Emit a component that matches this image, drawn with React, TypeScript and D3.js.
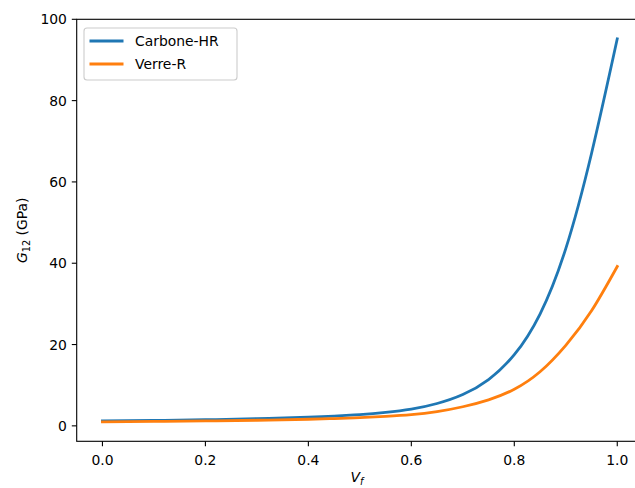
import React, { useEffect, useRef } from 'react';
import * as d3 from 'd3';

// fibre volume fraction
const vf = [0, 0.1, 0.2, 0.3, 0.4, 0.45, 0.5, 0.55, 0.6, 0.65, 0.7, 0.75, 0.8, 0.85, 0.9, 0.95, 1.0];
// G12 values (GPa)
const carbone = [1.2, 1.33, 1.51, 1.76, 2.14, 2.41, 2.78, 3.3, 4.1, 5.5, 7.7, 11.4, 17.5, 27.5, 43.6, 67.0, 95.2];
const verre = [1.0, 1.09, 1.21, 1.38, 1.62, 1.8, 2.02, 2.33, 2.75, 3.5, 4.7, 6.4, 9.0, 13.3, 19.8, 28.3, 39.2];
const seriesNames = ['Carbone-HR', 'Verre-R'];
const seriesColors = ['#1f77b4', '#ff7f0e'];
const xTicks = [0, 0.2, 0.4, 0.6, 0.8, 1.0];
const yTicks = [0, 20, 40, 60, 80, 100];

const W = 635, H = 488;
const FONT = 'DejaVu Sans, sans-serif';
const LW = 2.8;

const App = () => {
  const ref = useRef<SVGSVGElement>(null);

  useEffect(() => {
    const svg = d3.select(ref.current);
    svg.selectAll('*').remove();

    const left = 76.7, right = 643, top = 19.3, bottom = 441.3;

    const x = d3.scaleLinear().domain([-0.05, 1.05]).range([left, right]);
    const y = d3.scaleLinear().domain([-3.8, 100]).range([bottom, top]);

    // lines
    const line = d3.line<[number, number]>()
      .x(d => x(d[0]))
      .y(d => y(d[1]))
      .curve(d3.curveNatural);

    [carbone, verre].forEach((vals, i) => {
      svg.append('path')
        .datum(vf.map((v, j) => [v, vals[j]] as [number, number]))
        .attr('d', line)
        .attr('fill', 'none')
        .attr('stroke', seriesColors[i])
        .attr('stroke-width', LW)
        .attr('stroke-linecap', 'square');
    });

    // spines
    svg.append('rect')
      .attr('x', left).attr('y', top)
      .attr('width', right - left).attr('height', bottom - top)
      .attr('fill', 'none').attr('stroke', '#000').attr('stroke-width', 1.1);

    // x axis
    const gx = svg.append('g');
    xTicks.forEach(t => {
      gx.append('line')
        .attr('x1', x(t)).attr('x2', x(t))
        .attr('y1', bottom).attr('y2', bottom + 4.9)
        .attr('stroke', '#000').attr('stroke-width', 1.1);
      gx.append('text')
        .attr('x', x(t)).attr('y', bottom + 23.5)
        .attr('text-anchor', 'middle')
        .attr('font-family', FONT).attr('font-size', 13.9)
        .attr('fill', '#000')
        .text(t.toFixed(1));
    });

    // y axis
    const gy = svg.append('g');
    yTicks.forEach(t => {
      gy.append('line')
        .attr('x1', left - 4.9).attr('x2', left)
        .attr('y1', y(t)).attr('y2', y(t))
        .attr('stroke', '#000').attr('stroke-width', 1.1);
      gy.append('text')
        .attr('x', left - 9.8).attr('y', y(t))
        .attr('dy', '0.36em')
        .attr('text-anchor', 'end')
        .attr('font-family', FONT).attr('font-size', 13.9)
        .attr('fill', '#000')
        .text(t);
    });

    // x label  V_f
    const xl = svg.append('text')
      .attr('x', (left + right) / 2 - 3).attr('y', 482)
      .attr('text-anchor', 'middle')
      .attr('font-family', FONT).attr('font-size', 13.9);
    xl.append('tspan').attr('font-style', 'italic').text('V');
    xl.append('tspan').attr('font-style', 'italic').attr('font-size', 9.7).attr('dy', 3).text('f');

    // y label  G_12 (GPa)
    const yl = svg.append('text')
      .attr('transform', `translate(27,${(top + bottom) / 2}) rotate(-90)`)
      .attr('text-anchor', 'middle')
      .attr('font-family', FONT).attr('font-size', 13.9);
    yl.append('tspan').attr('font-style', 'italic').text('G');
    yl.append('tspan').attr('font-size', 9.7).attr('dy', 3).text('12');
    yl.append('tspan').attr('dy', -3).text(' (GPa)');

    // legend
    const lg = svg.append('g');
    lg.append('rect')
      .attr('x', 84).attr('y', 28).attr('width', 153).attr('height', 52)
      .attr('rx', 3)
      .attr('fill', '#fff').attr('fill-opacity', 0.8)
      .attr('stroke', '#cccccc').attr('stroke-width', 1.1);
    seriesNames.forEach((name, i) => {
      const ly = 41 + i * 23;
      lg.append('line')
        .attr('x1', 89.5).attr('x2', 123.5)
        .attr('y1', ly).attr('y2', ly)
        .attr('stroke', seriesColors[i]).attr('stroke-width', LW);
      lg.append('text')
        .attr('x', 135).attr('y', ly).attr('dy', '0.36em')
        .attr('font-family', FONT).attr('font-size', 13.9)
        .attr('fill', '#000')
        .text(name);
    });
  }, []);

  return (
    <svg ref={ref} width={W} height={H}
      style={{ position: 'absolute', left: 0, top: 0, background: '#fff' }} />
  );
};

export default App;
